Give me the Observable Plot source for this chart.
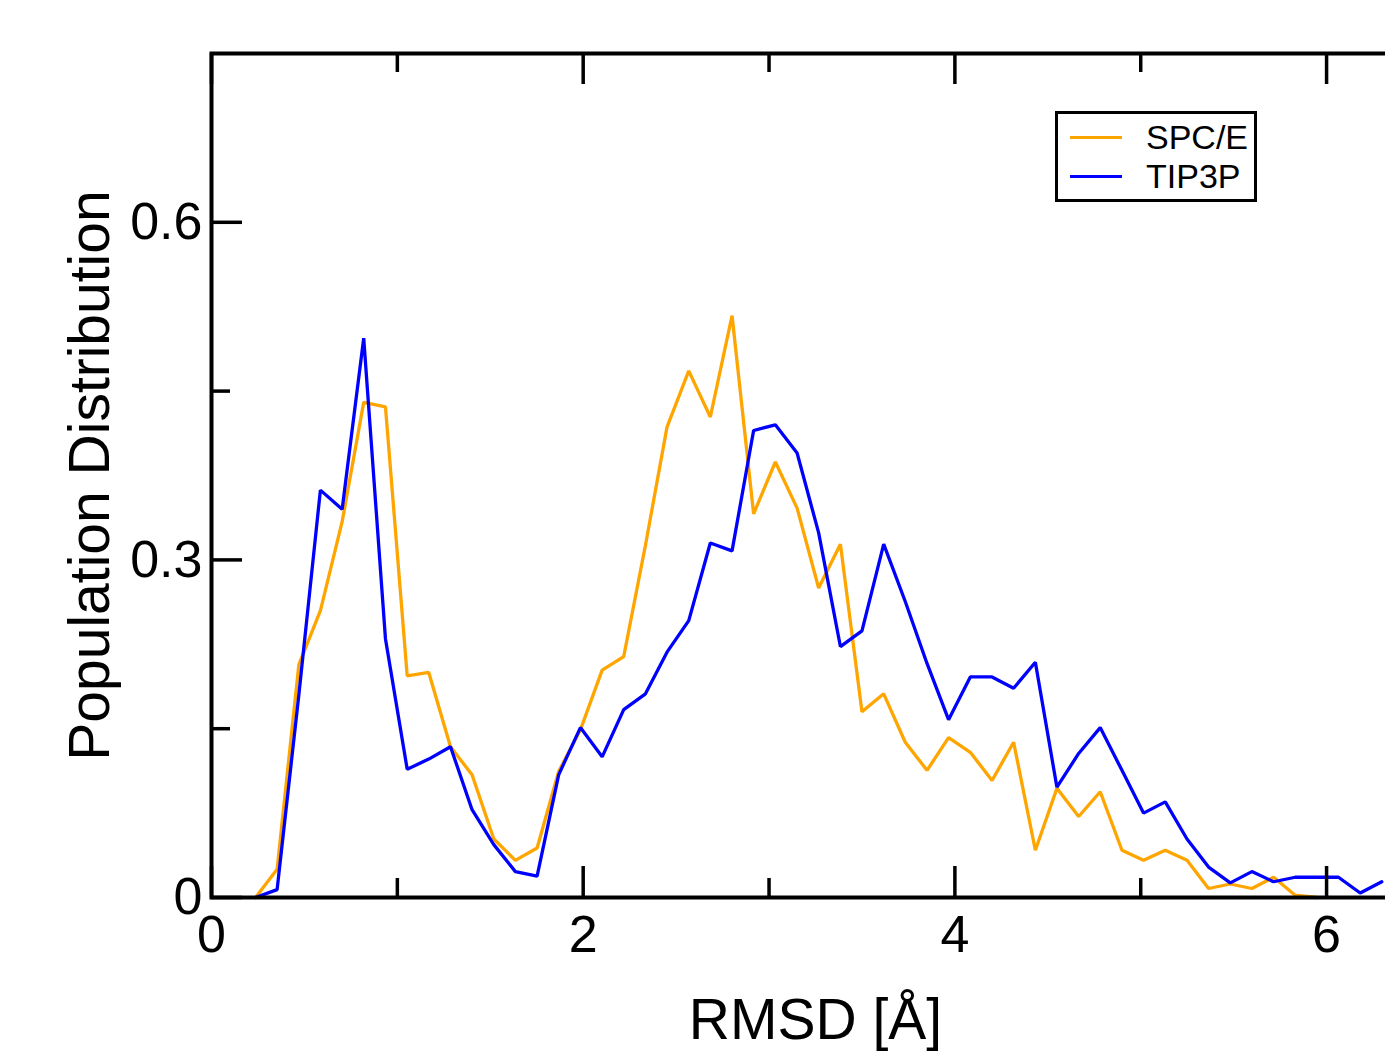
<!DOCTYPE html>
<html>
<head>
<meta charset="utf-8">
<script src="https://cdn.jsdelivr.net/npm/d3@7"></script>
<script src="https://cdn.jsdelivr.net/npm/@observablehq/plot@0.6"></script>
<style>
  html, body { margin: 0; padding: 0; background: #fff; overflow: hidden; }
  #wrap { position: relative; width: 1385px; height: 1053px; overflow: hidden; }
  #chart svg { max-width: none !important; display: block; }
  #legend { position: absolute; left: 1055px; top: 111px; width: 196px; height: 85px;
    border: 3px solid #000; background: #fff; font-family: "Liberation Sans", Arial, sans-serif; font-size: 34px; color: #000; }
  .item { position: absolute; left: 0; height: 38px; width: 196px; }
  .swatch { position: absolute; left: 12px; width: 52px; height: 3px; }
  .lab { position: absolute; left: 88px; line-height: 38px; white-space: nowrap; }
</style>
</head>
<body>
<div id="wrap"><div id="chart"></div><div id="legend"></div></div>
<script>
// RMSD bin centres (Å)
const rmsd = [0.237,0.353,0.470,0.586,0.703,0.819,0.936,1.053,1.169,1.286,1.402,1.519,1.635,1.752,1.868,1.985,2.102,2.218,2.335,2.451,2.568,2.684,2.801,2.917,3.034,3.151,3.267,3.384,3.500,3.617,3.733,3.850,3.966,4.083,4.200,4.316,4.433,4.549,4.666,4.782,4.899,5.015,5.132,5.249,5.365,5.482,5.598,5.715,5.831,5.948,6.064,6.181,6.297];

// Population distribution, SPC/E water model
const spce = [0,0.025,0.207,0.255,0.334,0.440,0.436,0.197,0.200,0.134,0.109,0.052,0.033,0.044,0.112,0.149,0.202,0.214,0.313,0.418,0.468,0.427,0.517,0.341,0.387,0.346,0.275,0.314,0.165,0.181,0.138,0.113,0.142,0.129,0.104,0.138,0.042,0.097,0.072,0.094,0.042,0.033,0.042,0.033,0.008,0.012,0.008,0.018,0.002,0];

// Population distribution, TIP3P water model
const tip3p = [0,0.007,0.180,0.362,0.345,0.497,0.230,0.114,0.123,0.134,0.078,0.047,0.023,0.019,0.109,0.151,0.125,0.167,0.181,0.218,0.246,0.315,0.308,0.415,0.420,0.395,0.324,0.223,0.237,0.314,0.263,0.208,0.158,0.196,0.196,0.186,0.209,0.098,0.128,0.151,0.113,0.075,0.085,0.052,0.027,0.013,0.023,0.014,0.018,0.018,0.018,0.004,0.014];

const seriesNames = ["SPC/E", "TIP3P"];
const seriesColors = ["#FFA500", "#0000FF"];

const xMajor = [0, 2, 4, 6];
const xMinor = [1, 3, 5];
const yMajor = [0, 0.3, 0.6];
const yMinor = [0.15, 0.45];
const xLabel = "RMSD [Å]";
const yLabel = "Population Distribution";

const spceData = spce.map((v, i) => ({x: rmsd[i], y: v}));
const tipData = tip3p.map((v, i) => ({x: rmsd[i], y: v}));

const marginLeft = 211, marginRight = 31, marginTop = 53, marginBottom = 156;
const width = 1450, height = 1053;
const pw = width - marginLeft - marginRight;
const ph = height - marginTop - marginBottom;
const majorLen = 31, minorLen = 19;
const font = "'Liberation Sans', Arial, Helvetica, sans-serif";

const chart = Plot.plot({
  width, height, marginLeft, marginRight, marginTop, marginBottom,
  x: {domain: [0, 6.5]},
  y: {domain: [0, 0.75]},
  style: {fontFamily: font, background: "white", color: "black", maxWidth: "none"},
  marks: [
    Plot.line(spceData, {x: "x", y: "y", stroke: seriesColors[0], strokeWidth: 3.3, strokeLinejoin: "miter"}),
    Plot.line(tipData, {x: "x", y: "y", stroke: seriesColors[1], strokeWidth: 3.3, strokeLinejoin: "miter"}),
    // inward ticks
    Plot.tickX(xMajor, {x: d => d, stroke: "black", strokeWidth: 3.5, insetTop: ph - majorLen}),
    Plot.tickX(xMajor, {x: d => d, stroke: "black", strokeWidth: 3.5, insetBottom: ph - majorLen}),
    Plot.tickX(xMinor, {x: d => d, stroke: "black", strokeWidth: 3.5, insetTop: ph - minorLen}),
    Plot.tickX(xMinor, {x: d => d, stroke: "black", strokeWidth: 3.5, insetBottom: ph - minorLen}),
    Plot.tickY(yMajor, {y: d => d, stroke: "black", strokeWidth: 3.5, insetRight: pw - majorLen}),
    Plot.tickY(yMinor, {y: d => d, stroke: "black", strokeWidth: 3.5, insetRight: pw - minorLen}),
    Plot.frame({stroke: "black", strokeWidth: 4}),
    Plot.axisX(xMajor, {tickSize: 0, tickPadding: 18, fontSize: 52, label: null, tickFormat: d => String(d)}),
    Plot.axisY(yMajor, {tickSize: 0, tickPadding: 9, fontSize: 52, label: null, tickFormat: d => d === 0 ? "0" : d.toFixed(1)}),
    Plot.text([xLabel], {frameAnchor: "bottom", text: d => d, dy: 123, fontSize: 57, fill: "black", textAnchor: "middle", lineAnchor: "middle"}),
    Plot.text([yLabel], {frameAnchor: "left", text: d => d, dx: -121, rotate: -90, fontSize: 57, fill: "black", textAnchor: "middle", lineAnchor: "middle"})
  ]
});
document.getElementById("chart").appendChild(chart);

const legend = document.getElementById("legend");
seriesNames.forEach((name, i) => {
  const item = document.createElement("div");
  item.className = "item";
  item.style.top = (i === 0 ? 4 : 43) + "px";
  const sw = document.createElement("div");
  sw.className = "swatch";
  sw.style.top = "18px";
  sw.style.background = seriesColors[i];
  const lab = document.createElement("div");
  lab.className = "lab";
  lab.textContent = name;
  item.appendChild(sw);
  item.appendChild(lab);
  legend.appendChild(item);
});
</script>
</body>
</html>
